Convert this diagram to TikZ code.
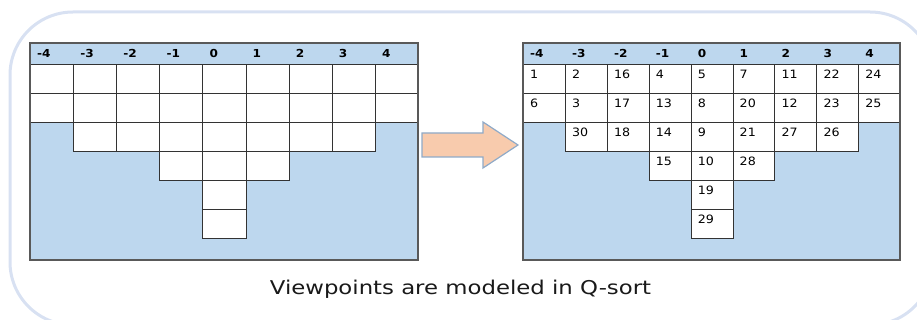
\documentclass[tikz,border=0pt]{standalone}
\usepackage{fontspec}
\setmainfont{DejaVu Sans}
\newfontfamily\qfont[FakeStretch=1.1]{DejaVu Sans}
\newfontfamily\capfont[FakeStretch=1.2]{DejaVu Sans}
\usetikzlibrary{positioning}
\definecolor{qblue}{RGB}{189,215,238}
\definecolor{framecol}{RGB}{216,225,242}
\definecolor{peach}{RGB}{248,203,173}
\definecolor{arrowedge}{RGB}{143,170,200}

\begin{document}
\begin{tikzpicture}[x=1pt,y=-1pt,line join=miter,
  cellbox/.style={draw=black!80, line width=0.9pt, fill=white, anchor=north west, inner sep=0pt, minimum height=29pt},
  headtext/.style={anchor=west, inner sep=0pt, font=\qfont\bfseries\fontsize{11}{13}\selectfont},
  numtext/.style={anchor=west, inner sep=0pt, font=\qfont\fontsize{11.5}{13}\selectfont, text=black}]
\useasboundingbox (0,0) rectangle (917,320);
\clip (0,0) rectangle (917,320);
% outer frame
\draw [framecol, line width=3pt, rounded corners=63pt] (10,12) rectangle (933,325);
% left grid (empty)
\fill [qblue] (30,43) rectangle (418,260);
\foreach \n [count=\i from 0] in {2,3,3,4,6,4,3,3,2}
  \foreach \j in {1,...,\n}
    \node [cellbox, minimum width=43.1pt] (l-\i-\j) at ({30+43.1*\i},{64+29*(\j-1)}) {};
\foreach \h [count=\i from 0] in {-4,-3,...,4}
  \node [headtext] (lh-\i) at ({37+43.1*\i},53.5) {\h};
\draw [black!80, line width=0.9pt] (30,64) -- (418,64);
\draw [black!65, line width=1.4pt] (30,43) rectangle (418,260);
% block arrow
\draw [fill=peach, draw=arrowedge, line width=1.2pt] (422,133) -- (483,133) -- (483,122) -- (518,145) -- (483,168) -- (483,157) -- (422,157) -- cycle;
% right grid (sorted)
\fill [qblue] (523,43) rectangle (900,260);
\foreach \vals [count=\i from 0] in {{1,6},{2,3,30},{16,17,18},{4,13,14,15},{5,8,9,10,19,29},{7,20,21,28},{11,12,27},{22,23,26},{24,25}}
  \foreach \v [count=\j] in \vals {
    \node [cellbox, minimum width=41.9pt] (r-\i-\j) at ({523+41.9*\i},{64+29*(\j-1)}) {};
    \node [numtext] (rn-\i-\j) at ([xshift=7pt,yshift=-10pt]r-\i-\j.north west) {\v};
  }
\foreach \h [count=\i from 0] in {-4,-3,...,4}
  \node [headtext] (rh-\i) at ({530+41.9*\i},53.5) {\h};
\draw [black!80, line width=0.9pt] (523,64) -- (900,64);
\draw [black!65, line width=1.4pt] (523,43) rectangle (900,260);
% caption
\node [font=\capfont\fontsize{19}{22}\selectfont, text=black!90] (caption) at (460.5,289) {Viewpoints are modeled in Q-sort};
\end{tikzpicture}
\end{document}
